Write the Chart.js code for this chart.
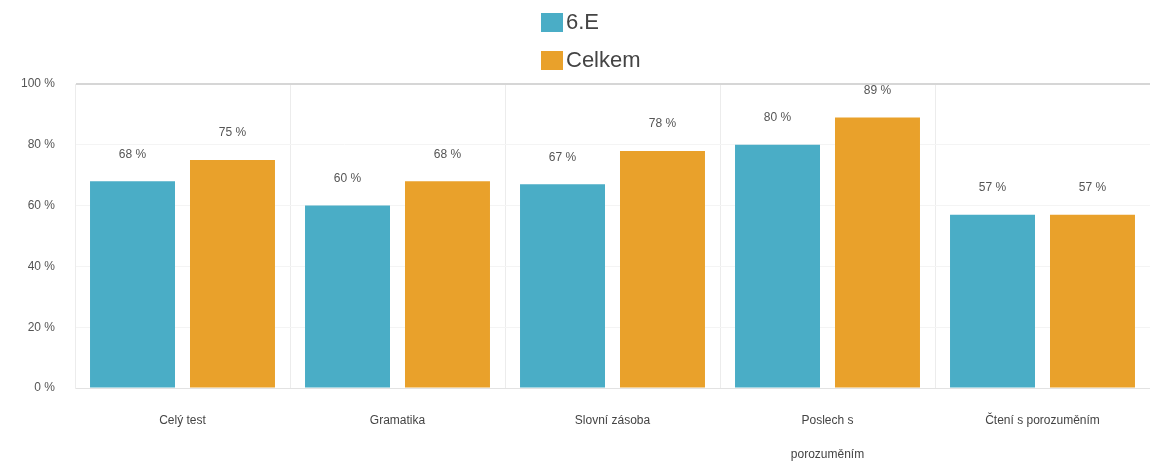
<!DOCTYPE html>
<html>
<head>
<meta charset="utf-8">
<script src="https://cdn.jsdelivr.net/npm/chart.js@4"></script>
<style>
  html, body { margin: 0; padding: 0; background: #fff; }
  #wrap { width: 1150px; height: 466px; }
</style>
</head>
<body>
<div id="wrap"><canvas id="resultChart"></canvas></div>
<script>
// data
const categories = ['Celý test', 'Gramatika', 'Slovní zásoba', ['Poslech s', 'porozuměním'], 'Čtení s porozuměním'];
const classValues = [68, 60, 67, 80, 57];   // 6.E
const totalValues = [75, 68, 78, 89, 57];   // Celkem
const yTicks = [0, 20, 40, 60, 80, 100];

const TEAL = '#4aadc6';
const ORANGE = '#e9a12b';

// value labels above each bar
const valueLabels = {
  id: 'valueLabels',
  afterDatasetsDraw(chart) {
    const ctx = chart.ctx;
    ctx.save();
    ctx.font = '12px "Liberation Sans", Arial, sans-serif';
    ctx.fillStyle = '#555';
    ctx.textAlign = 'center';
    ctx.textBaseline = 'middle';
    chart.data.datasets.forEach((ds, i) => {
      chart.getDatasetMeta(i).data.forEach((bar, j) => {
        ctx.fillText(ds.data[j] + ' %', bar.x, bar.y - 27);
      });
    });
    ctx.restore();
  }
};

// stacked legend at the top, one item per row
const stackedLegend = {
  id: 'stackedLegend',
  afterDraw(chart) {
    const ctx = chart.ctx;
    ctx.save();
    ctx.font = '22px "Liberation Sans", Arial, sans-serif';
    ctx.textBaseline = 'middle';
    ctx.textAlign = 'left';
    chart.data.datasets.forEach((ds, i) => {
      const cy = 22 + i * 38;
      ctx.fillStyle = ds.backgroundColor;
      ctx.fillRect(541, cy - 9, 22, 19);
      ctx.fillStyle = '#444';
      ctx.fillText(ds.label, 566, cy + 1);
    });
    ctx.restore();
  }
};

new Chart(document.getElementById('resultChart'), {
  type: 'bar',
  data: {
    labels: categories,
    datasets: [
      { label: '6.E', data: classValues, backgroundColor: TEAL },
      { label: 'Celkem', data: totalValues, backgroundColor: ORANGE }
    ]
  },
  options: {
    responsive: true,
    maintainAspectRatio: false,
    animation: false,
    layout: { padding: { top: 84, right: 0, left: 0, bottom: 0 } },
    datasets: { bar: { categoryPercentage: 0.93, barPercentage: 0.85 } },
    plugins: {
      legend: { display: false },
      tooltip: { enabled: false }
    },
    scales: {
      x: {
        grid: { color: '#ececec', drawTicks: false },
        border: { color: '#e2e2e2' },
        ticks: {
          padding: 16,
          color: '#444',
          font: { family: '"Liberation Sans", Arial, sans-serif', size: 12, lineHeight: 2.8 }
        },
        afterFit(scale) { scale.height = 78; }
      },
      y: {
        min: 0,
        max: 100,
        afterBuildTicks(scale) { scale.ticks = yTicks.map(v => ({ value: v })); },
        grid: {
          drawTicks: false,
          color: ctx => (ctx.tick && ctx.tick.value === 100) ? '#d6d6d6' : '#f4f4f4',
          lineWidth: ctx => (ctx.tick && ctx.tick.value === 100) ? 2 : 1
        },
        border: { display: true, color: '#ececec' },
        ticks: {
          padding: 20,
          color: '#555',
          font: { family: '"Liberation Sans", Arial, sans-serif', size: 12 },
          callback: v => v + ' %'
        },
        afterFit(scale) { scale.width = 75; }
      }
    }
  },
  plugins: [valueLabels, stackedLegend]
});
</script>
</body>
</html>
